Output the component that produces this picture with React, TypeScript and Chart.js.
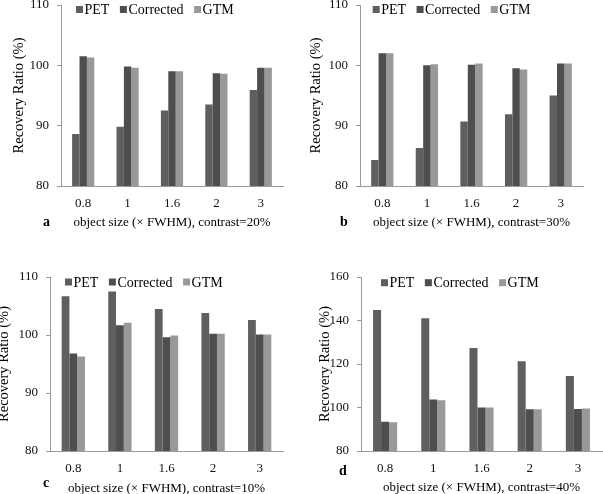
import React, { useEffect, useRef } from 'react';
import { Chart, registerables } from 'chart.js';
Chart.register(...registerables);

const categories = ['0.8', '1', '1.6', '2', '3'];
const seriesNames = ['PET', 'Corrected', 'GTM'];

const aPET = [88.6, 89.8, 92.5, 93.5, 95.9];
const aCorrected = [101.5, 99.8, 99.0, 98.7, 99.6];
const aGTM = [101.3, 99.6, 99.0, 98.6, 99.6];

const bPET = [84.3, 86.3, 90.7, 91.9, 95.0];
const bCorrected = [102.0, 100.0, 100.1, 99.5, 100.3];
const bGTM = [102.0, 100.2, 100.3, 99.3, 100.3];

const cPET = [106.7, 107.5, 104.5, 103.8, 102.6];
const cCorrected = [96.8, 101.7, 99.6, 100.2, 100.1];
const cGTM = [96.3, 102.1, 99.9, 100.2, 100.1];

const dPET = [144.8, 141.0, 127.3, 121.3, 114.5];
const dCorrected = [93.5, 103.7, 100.0, 99.2, 99.3];
const dGTM = [93.2, 103.3, 100.0, 99.2, 99.5];

const yTicksAbc = [80, 90, 100, 110];
const yTicksD = [80, 100, 120, 140, 160];

const SERIF = '"Liberation Serif", "Times New Roman", serif';
const COLORS = ['#5f5f5f', '#4e4e4e', '#999999'];

type PanelDef = {
  letter: string;
  contrast: string;
  pet: number[];
  corrected: number[];
  gtm: number[];
  yTicks: number[];
  left: number; top: number; w: number; h: number;
  areaLeft: number; areaTop: number; areaRight: number; areaBottom: number;
  yTitlePad: number; xTitlePad: number;
  legendX: number; legendY: number;
  letterX: number; letterY: number;
};

const panels: PanelDef[] = [
  { letter: 'a', contrast: '20%', pet: aPET, corrected: aCorrected, gtm: aGTM, yTicks: yTicksAbc,
    left: 0, top: 0, w: 300, h: 240, areaLeft: 61, areaTop: 5, areaRight: 283, areaBottom: 186,
    yTitlePad: 12, xTitlePad: 11, legendX: 76, legendY: 9.5, letterX: 43, letterY: 225.5 },
  { letter: 'b', contrast: '30%', pet: bPET, corrected: bCorrected, gtm: bGTM, yTicks: yTicksAbc,
    left: 300, top: 0, w: 303, h: 240, areaLeft: 60, areaTop: 5, areaRight: 283, areaBottom: 186,
    yTitlePad: 9, xTitlePad: 11, legendX: 72.7, legendY: 9.5, letterX: 40, letterY: 225.5 },
  { letter: 'c', contrast: '10%', pet: cPET, corrected: cCorrected, gtm: cGTM, yTicks: yTicksAbc,
    left: 0, top: 240, w: 300, h: 254, areaLeft: 50, areaTop: 37, areaRight: 283, areaBottom: 211,
    yTitlePad: -3, xTitlePad: -1.5, legendX: 65, legendY: 42, letterX: 43, letterY: 247 },
  { letter: 'd', contrast: '40%', pet: dPET, corrected: dCorrected, gtm: dGTM, yTicks: yTicksD,
    left: 300, top: 240, w: 303, h: 254, areaLeft: 61, areaTop: 37, areaRight: 302, areaBottom: 211,
    yTitlePad: 18, xTitlePad: 0, legendX: 81, legendY: 42.7, letterX: 39, letterY: 235 },
];

const decoPlugin = {
  id: 'panelDeco',
  afterDraw(chart: any, _args: any, opts: any) {
    const ctx = chart.ctx;
    ctx.save();
    ctx.font = 'normal bold 14px ' + SERIF;
    ctx.fillStyle = '#000';
    ctx.textAlign = 'left';
    ctx.textBaseline = 'alphabetic';
    ctx.fillText(opts.letter, opts.letterX, opts.letterY);
    ctx.font = 'normal normal 14px ' + SERIF;
    ctx.textBaseline = 'middle';
    let x = opts.legendX;
    const y = opts.legendY;
    chart.data.datasets.forEach((ds: any) => {
      ctx.fillStyle = ds.backgroundColor;
      ctx.fillRect(x, y - 3.5, 7, 7);
      x += 8.5;
      ctx.fillStyle = '#000';
      ctx.fillText(ds.label, x, y + 1);
      x += ctx.measureText(ds.label).width + 10.5;
    });
    ctx.restore();
  },
};

function Panel({ p }: { p: PanelDef }) {
  const ref = useRef<HTMLCanvasElement | null>(null);
  useEffect(() => {
    if (!ref.current) return;
    const yMin = p.yTicks[0];
    const yMax = p.yTicks[p.yTicks.length - 1];
    const step = p.yTicks[1] - p.yTicks[0];
    const chart = new Chart(ref.current, {
      type: 'bar',
      data: {
        labels: categories,
        datasets: [p.pet, p.corrected, p.gtm].map((vals, i) => ({
          label: seriesNames[i],
          data: vals,
          backgroundColor: COLORS[i],
          borderWidth: 0,
          categoryPercentage: 0.5,
          barPercentage: 1.0,
        })),
      },
      options: {
        animation: false,
        responsive: false,
        maintainAspectRatio: false,
        layout: { padding: { left: 0, top: p.areaTop, right: p.w - p.areaRight, bottom: 0 } },
        plugins: {
          legend: { display: false },
          tooltip: { enabled: false },
          panelDeco: { letter: p.letter, letterX: p.letterX, letterY: p.letterY, legendX: p.legendX, legendY: p.legendY },
        } as any,
        scales: {
          x: {
            offset: true,
            grid: { display: false, drawTicks: false },
            border: { display: true, color: '#9a9a9a', width: 1 },
            ticks: { color: '#111', font: { family: SERIF, size: 13 }, padding: 10, maxRotation: 0 },
            title: {
              display: true,
              text: 'object size (× FWHM), contrast=' + p.contrast,
              color: '#000',
              font: { family: SERIF, size: 13, lineHeight: 1 },
              padding: { top: 0, bottom: p.xTitlePad },
            },
            afterFit: (s: any) => { s.height = p.h - p.areaBottom; s.paddingLeft = 0; s.paddingRight = 0; },
          },
          y: {
            min: yMin,
            max: yMax,
            ticks: { stepSize: step, color: '#111', font: { family: SERIF, size: 13 }, padding: 8 },
            grid: { display: true, drawOnChartArea: false, drawTicks: true, tickLength: 4, color: '#9a9a9a' },
            border: { display: true, color: '#9a9a9a', width: 1 },
            title: {
              display: true,
              text: 'Recovery Ratio (%)',
              color: '#000',
              font: { family: SERIF, size: 14.5, lineHeight: 1 },
              padding: { top: p.yTitlePad, bottom: 0 },
            },
            afterFit: (s: any) => { s.width = p.areaLeft; s.paddingTop = 0; s.paddingBottom = 0; },
          },
        },
      },
      plugins: [decoPlugin as any],
    });
    return () => chart.destroy();
  }, [p]);
  return (
    <canvas
      ref={ref}
      width={p.w}
      height={p.h}
      style={{ position: 'absolute', left: p.left, top: p.top, width: p.w, height: p.h }}
    />
  );
}

export default function App() {
  return (
    <div style={{ position: 'absolute', left: 0, top: 0, width: 603, height: 494, background: '#fff', overflow: 'hidden' }}>
      {panels.map((p) => <Panel key={p.letter} p={p} />)}
    </div>
  );
}
